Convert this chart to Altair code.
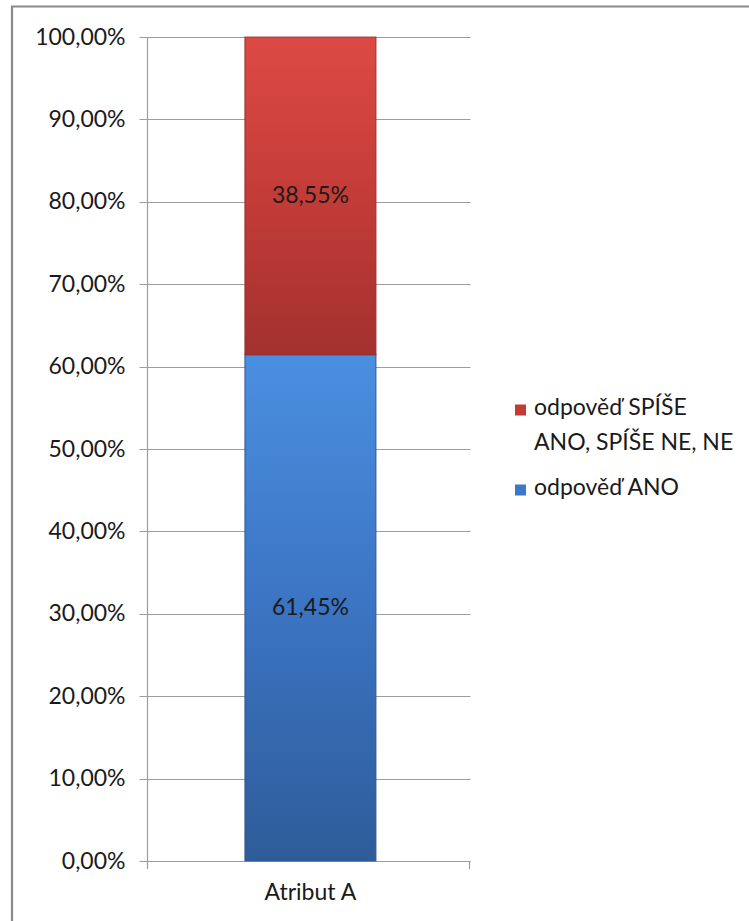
import altair as alt
import pandas as pd

# Survey answers for one attribute, as shares of all respondents
categories = ["Atribut A"]
series_names = ["odpověď ANO", "odpověď SPÍŠE ANO, SPÍŠE NE, NE"]
share_values = [0.6145, 0.3855]
stack_order = [0, 1]                      # ANO at the bottom of the stack
legend_order = ["odpověď SPÍŠE ANO, SPÍŠE NE, NE", "odpověď ANO"]
legend_text = ["odpověď SPÍŠE\nANO, SPÍŠE NE, NE", "odpověď ANO"]
legend_colors = ["#c23b37", "#3b78c8"]
y_ticks = [0.0, 0.1, 0.2, 0.3, 0.4, 0.5, 0.6, 0.7, 0.8, 0.9, 1.0]

rows = []
for cat in categories:
    for name, val, order in zip(series_names, share_values, stack_order):
        rows.append({"kategorie": cat, "serie": name, "podil": val, "poradi": order})
df = pd.DataFrame(rows)

FONT = "Lato"
FS = 23
W, H = 323, 824
GRID = "#9c9c9c"
INK = "#1a1a1a"

pct_expr = "replace(format(datum.value, '.2%'), '.', ',')"

red_grad = alt.Gradient(
    gradient="linear", x1=0, y1=0, x2=0, y2=1,
    stops=[alt.GradientStop(color="#dd4a45", offset=0),
           alt.GradientStop(color="#c63d39", offset=0.45),
           alt.GradientStop(color="#a3312e", offset=1)],
)
blue_grad = alt.Gradient(
    gradient="linear", x1=0, y1=0, x2=0, y2=1,
    stops=[alt.GradientStop(color="#4b8fe0", offset=0),
           alt.GradientStop(color="#3b74c2", offset=0.5),
           alt.GradientStop(color="#2e5c99", offset=1)],
)

base = alt.Chart(df).transform_stack(
    stack="podil",
    groupby=["kategorie"],
    as_=["y0", "y1"],
    sort=[alt.SortField("poradi", order="ascending")],
).transform_calculate(
    stred="(datum.y0 + datum.y1) / 2",
    popisek="replace(format(datum.podil, '.2%'), '.', ',')",
)

x_enc = alt.X(
    "kategorie:N",
    title=None,
    scale=alt.Scale(paddingOuter=0.733, paddingInner=0, align=0.51),
    axis=alt.Axis(
        labelAngle=0, labelFont=FONT, labelFontSize=FS, labelColor=INK,
        labelPadding=20, ticks=False, domainColor=GRID, domainWidth=1.2,
        grid=False,
    ),
)
y_enc = alt.Y(
    "y0:Q",
    title=None,
    scale=alt.Scale(domain=[0, 1], nice=False),
    axis=alt.Axis(
        values=y_ticks, labelExpr=pct_expr, labelFont=FONT, labelFontSize=FS,
        labelColor=INK, labelPadding=14, tickSize=8, tickColor=GRID,
        domainColor=GRID, domainWidth=1.2, gridColor=GRID, gridWidth=1.1,
    ),
)

# soft shadow around the stacked column
shadow = base.mark_bar(color="#000000", opacity=0.07, stroke="#000000",
                       strokeWidth=8, strokeOpacity=0.05).encode(
    x=x_enc, y=y_enc, y2="y1:Q",
)

shaded_bars = base.mark_bar(strokeWidth=1.2, strokeOpacity=0.8).encode(
    x="kategorie:N",
    y="y0:Q",
    y2="y1:Q",
    fill=alt.condition(alt.datum.poradi == 0, alt.value(blue_grad), alt.value(red_grad)),
    stroke=alt.condition(alt.datum.poradi == 0, alt.value("#2a5590"), alt.value("#962c29")),
)

labels = base.mark_text(font=FONT, fontSize=FS, color=INK).encode(
    x="kategorie:N",
    y=alt.Y("stred:Q"),
    text="popisek:N",
)

one = pd.DataFrame({"k": [0]})

# end ticks of the category axis
axis_ends = alt.Chart(one).mark_rule(color=GRID, strokeWidth=1.2).encode(
    x=alt.value(0.5), y=alt.value(H), y2=alt.value(H + 8),
) + alt.Chart(one).mark_rule(color=GRID, strokeWidth=1.2).encode(
    x=alt.value(W - 0.5), y=alt.value(H), y2=alt.value(H + 8),
)

# outer chart frame
frame = alt.Chart(one).mark_rect(
    fillOpacity=0, stroke="#8a8a8a", strokeWidth=2.2
).encode(
    x=alt.value(-135), x2=alt.value(640), y=alt.value(-30.5), y2=alt.value(920),
)

# legend on the right: square key + wrapped label per series
LEG_X = 368          # left edge of the key squares, relative to the plot
LEG_Y = [373, 453]   # vertical centre of each key
legend_layers = []
for name, text, col, ly in zip(legend_order, legend_text, legend_colors, LEG_Y):
    item = pd.DataFrame({"serie": [name], "text": [text]})
    legend_layers.append(
        alt.Chart(item).mark_square(size=121, color=col, opacity=1).encode(
            x=alt.value(LEG_X + 5.5), y=alt.value(ly),
        )
    )
    legend_layers.append(
        alt.Chart(item).mark_text(
            font=FONT, fontSize=FS, color=INK, align="left", baseline="top",
            lineBreak="\n", lineHeight=35,
        ).encode(
            x=alt.value(LEG_X + 19), y=alt.value(ly - 13), text="text:N",
        )
    )

chart = alt.layer(
    frame, shadow, shaded_bars, labels, axis_ends, *legend_layers
).properties(
    width=W, height=H,
    autosize=alt.AutoSizeParams(type="none"),
    padding={"left": 147, "top": 37, "right": 279, "bottom": 60},
    background="white",
).configure_view(stroke=None)

chart.save("out.html", embed_options={"renderer": "svg", "actions": False})
